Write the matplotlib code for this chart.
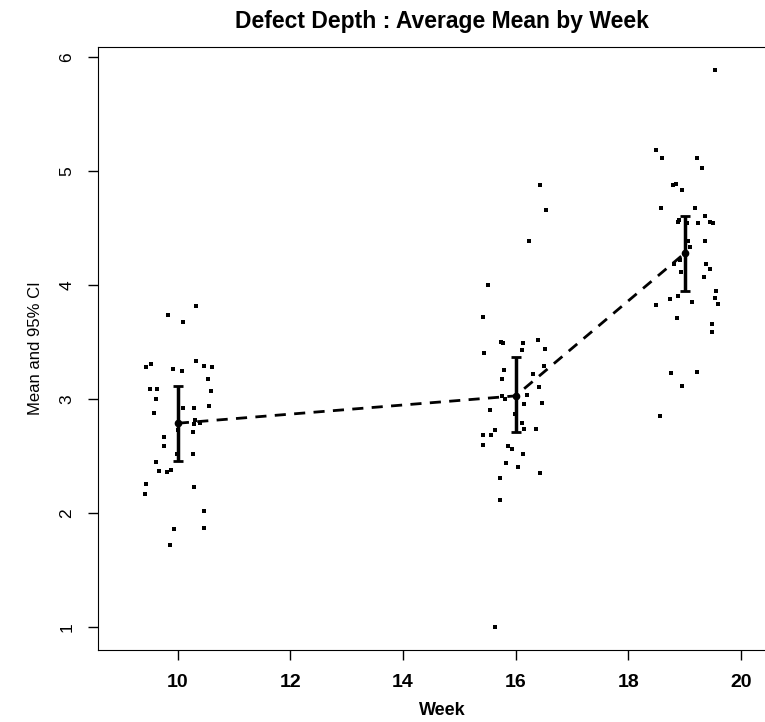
import matplotlib
matplotlib.use("Agg")
import matplotlib.pyplot as plt

plt.rcParams['font.family'] = ['Liberation Sans', 'DejaVu Sans']

wk10_x = [10.33, 9.82, 10.09, 9.44, 9.53, 9.91, 10.08, 10.33, 10.46, 10.61, 10.53, 9.50, 9.63,
          10.59, 9.62, 10.09, 10.29, 10.55, 9.58, 10.31, 10.40, 10.29, 10.01, 10.27, 9.76, 9.75,
          9.98, 10.27, 9.62, 9.67, 9.81, 9.88, 9.44, 9.41, 10.29, 10.46, 9.94, 10.46, 9.86]
wk10_y = [3.82, 3.74, 3.68, 3.28, 3.31, 3.27, 3.25, 3.34, 3.29, 3.28, 3.18, 3.09, 3.09,
          3.07, 3.00, 2.92, 2.92, 2.94, 2.88, 2.82, 2.79, 2.78, 2.73, 2.71, 2.67, 2.59,
          2.52, 2.52, 2.45, 2.37, 2.36, 2.38, 2.26, 2.17, 2.23, 2.02, 1.86, 1.87, 1.72]

wk16_x = [16.43, 16.54, 16.23, 15.51, 15.42, 15.74, 15.78, 16.13, 16.39, 16.12, 16.52, 15.43,
          15.80, 16.50, 16.30, 15.75, 16.42, 15.76, 15.81, 16.20, 15.55, 16.15, 16.46, 15.99,
          16.11, 15.42, 15.57, 15.63, 16.15, 16.36, 15.42, 15.86, 15.93, 16.13, 15.82, 16.04,
          15.72, 16.44, 15.72, 15.64]
wk16_y = [4.88, 4.66, 4.39, 4.00, 3.72, 3.50, 3.49, 3.49, 3.52, 3.43, 3.44, 3.41,
          3.26, 3.29, 3.22, 3.18, 3.11, 3.03, 3.00, 3.04, 2.91, 2.96, 2.97, 2.87,
          2.79, 2.69, 2.69, 2.73, 2.74, 2.74, 2.60, 2.59, 2.56, 2.52, 2.44, 2.41,
          2.31, 2.35, 2.12, 1.00]

wk19_x = [19.54, 18.49, 18.60, 19.22, 19.31, 18.79, 18.85, 18.96, 18.58, 19.18, 19.37, 18.88,
          18.90, 19.05, 19.24, 19.45, 19.51, 19.06, 19.37, 19.09, 18.92, 18.81, 19.39, 19.45,
          18.94, 19.35, 19.56, 19.54, 19.59, 18.75, 18.88, 19.14, 18.49, 18.86, 19.48, 19.48,
          18.76, 19.22, 18.96, 18.56]
wk19_y = [5.89, 5.19, 5.12, 5.12, 5.03, 4.88, 4.89, 4.84, 4.68, 4.68, 4.61, 4.56,
          4.57, 4.55, 4.55, 4.56, 4.55, 4.39, 4.39, 4.34, 4.22, 4.19, 4.19, 4.14,
          4.12, 4.07, 3.95, 3.89, 3.84, 3.88, 3.91, 3.85, 3.83, 3.71, 3.66, 3.59,
          3.23, 3.24, 3.12, 2.85]

# summary per week
weeks = [10, 16, 19]
means = [2.79, 3.03, 4.28]
ci_low = [2.46, 2.71, 3.95]
ci_high = [3.12, 3.37, 4.61]

fig = plt.figure(figsize=(7.65, 7.22), dpi=100)
ax = fig.add_axes([0.128, 0.0997, 0.9, 0.835])

for xs, ys in [(wk10_x, wk10_y), (wk16_x, wk16_y), (wk19_x, wk19_y)]:
    ax.scatter(xs, ys, marker='s', s=6, color='black', linewidths=0)

ax.plot(weeks, means, color='black', linestyle=(0, (4, 3)), linewidth=2)
yerr = [[m - lo for m, lo in zip(means, ci_low)], [hi - m for m, hi in zip(means, ci_high)]]
ax.errorbar(weeks, means, yerr=yerr, fmt='o', color='black', markersize=4.5,
            elinewidth=2.5, capsize=3.5, capthick=2)

ax.set_xlim(8.58, 20.81)
ax.set_ylim(0.8, 6.09)
ax.set_xticks([10, 12, 14, 16, 18, 20])
ax.set_yticks([1, 2, 3, 4, 5, 6])
ax.spines['right'].set_visible(False)
ax.tick_params(direction='out', length=7, width=1, pad=10)
for lab in ax.get_xticklabels():
    lab.set_fontsize(14)
    lab.set_fontweight('bold')
for lab in ax.get_yticklabels():
    lab.set_fontsize(12.5)
    lab.set_rotation(90)
    lab.set_va('center')

ax.set_title("Defect Depth : Average Mean by Week", fontsize=16.5, fontweight='bold', pad=14)
ax.set_xlabel("Week", fontsize=13, fontweight='bold', labelpad=8)
ax.set_ylabel("Mean and 95% CI", fontsize=12, labelpad=12)

fig.savefig("out.png", dpi=100)
